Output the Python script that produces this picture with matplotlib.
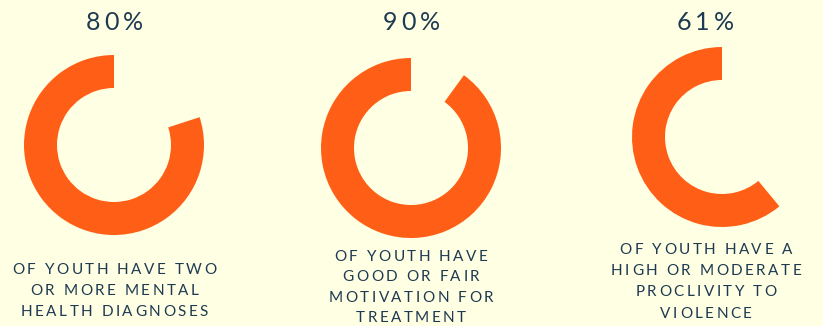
import matplotlib
matplotlib.use("Agg")
import matplotlib.pyplot as plt
from matplotlib.font_manager import FontProperties

# data
percents = [80, 90, 61]
pct_labels = ["80%", "90%", "61%"]
captions = [
    ["OF YOUTH HAVE TWO", "OR MORE MENTAL", "HEALTH DIAGNOSES"],
    ["OF YOUTH HAVE", "GOOD OR FAIR", "MOTIVATION FOR", "TREATMENT"],
    ["OF YOUTH HAVE A", "HIGH OR MODERATE", "PROCLIVITY TO", "VIOLENCE"],
]

W, H = 823, 326
BG = "#FFFFE3"
ORANGE = "#FF5E17"
NAVY = "#1E3A52"

# layout in pixels (image coords, y from top)
donut_centers = [(114, 145), (411, 148), (722, 137)]
donut_radius = 90
donut_width = 33
pct_x = [114, 411, 705]
pct_baseline = 29.5
cap_x = [114.5, 411, 706]
cap_first = [274, 260.7, 254]
cap_step = [21, 20.4, 21.2]


def spaced_text(ax, renderer, x, y, s, size, tracking, color):
    # draw text centred on x with extra letter spacing (pixels)
    prop = FontProperties(family="Lato", size=size)
    widths = []
    for i in range(len(s) + 1):
        w, _, _ = renderer.get_text_width_height_descent(s[:i], prop, ismath=False)
        widths.append(w)
    total = widths[-1] + tracking * (len(s) - 1)
    x0 = x - total / 2
    for i, ch in enumerate(s):
        if ch == " ":
            continue
        ax.text(x0 + widths[i] + tracking * i, H - y, ch, fontproperties=prop,
                color=color, ha="left", va="baseline")


fig = plt.figure(figsize=(W / 100, H / 100), dpi=100, facecolor=BG)
ax = fig.add_axes([0, 0, 1, 1])
ax.set_facecolor(BG)

for (cx, cy), p in zip(donut_centers, percents):
    ax.pie([p, 100 - p], colors=[ORANGE, "none"], startangle=90, counterclock=True,
           center=(cx, H - cy), radius=donut_radius,
           wedgeprops=dict(width=donut_width, linewidth=0))

ax.set_xlim(0, W)
ax.set_ylim(0, H)
ax.set_aspect("equal")
ax.axis("off")

renderer = fig.canvas.get_renderer()
for i in range(3):
    spaced_text(ax, renderer, pct_x[i], pct_baseline, pct_labels[i], 18, 4, NAVY)
    for j, line in enumerate(captions[i]):
        spaced_text(ax, renderer, cap_x[i], cap_first[i] + j * cap_step[i], line, 11, 2.5, NAVY)

fig.savefig("out.png", dpi=100, facecolor=BG)
